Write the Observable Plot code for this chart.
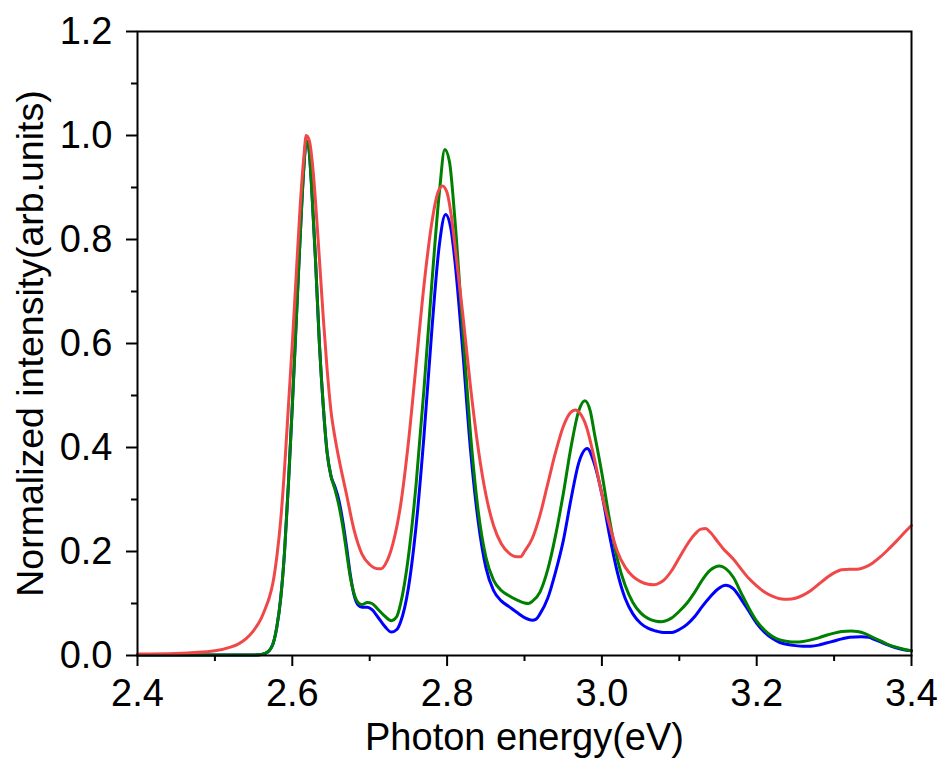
<!DOCTYPE html>
<html>
<head>
<meta charset="utf-8">
<script src="https://cdn.jsdelivr.net/npm/d3@7"></script>
<script src="https://cdn.jsdelivr.net/npm/@observablehq/plot@0.6"></script>
<style>
  html, body { margin: 0; padding: 0; background: #fff; }
</style>
</head>
<body>
<div id="chart"></div>
<script>
const xMajorTicks = [2.4, 2.6, 2.8, 3.0, 3.2, 3.4];
const xMinorTicks = [2.5, 2.7, 2.9, 3.1, 3.3];
const yMajorTicks = [0.0, 0.2, 0.4, 0.6, 0.8, 1.0, 1.2];
const yMinorTicks = [0.1, 0.3, 0.5, 0.7, 0.9, 1.1];
const xLabel = "Photon energy(eV)";
const yLabel = "Normalized intensity(arb.units)";

// [photon energy (eV), normalized intensity]
const redSeries = [
[2.40,0.003],[2.45,0.004],[2.50,0.009],[2.52,0.016],[2.53,0.022],[2.54,0.032],[2.55,0.048],[2.56,0.072],[2.565,0.09],[2.57,0.11],[2.575,0.14],[2.58,0.19],[2.585,0.26],[2.59,0.36],[2.595,0.48],[2.60,0.6],[2.605,0.73],[2.61,0.86],[2.615,0.96],[2.618,1.0],[2.622,0.99],[2.627,0.93],[2.632,0.83],[2.64,0.65],[2.645,0.55],[2.65,0.47],[2.655,0.42],[2.66,0.38],[2.67,0.31],[2.68,0.24],[2.69,0.195],[2.70,0.175],[2.71,0.167],[2.715,0.167],[2.72,0.175],[2.73,0.215],[2.74,0.29],[2.75,0.41],[2.76,0.56],[2.77,0.71],[2.78,0.83],[2.788,0.89],[2.794,0.903],[2.80,0.89],[2.805,0.85],[2.81,0.79],[2.82,0.66],[2.83,0.52],[2.84,0.4],[2.85,0.31],[2.86,0.25],[2.87,0.215],[2.88,0.197],[2.89,0.19],[2.895,0.19],[2.90,0.2],[2.91,0.225],[2.92,0.27],[2.93,0.33],[2.94,0.39],[2.95,0.44],[2.96,0.468],[2.966,0.472],[2.972,0.465],[2.98,0.44],[2.99,0.38],[3.00,0.31],[3.01,0.25],[3.02,0.2],[3.03,0.17],[3.04,0.152],[3.05,0.142],[3.06,0.137],[3.067,0.136],[3.075,0.14],[3.08,0.145],[3.09,0.163],[3.10,0.188],[3.11,0.213],[3.12,0.233],[3.128,0.243],[3.134,0.244],[3.14,0.237],[3.15,0.218],[3.157,0.205],[3.165,0.193],[3.17,0.185],[3.18,0.166],[3.19,0.148],[3.20,0.134],[3.21,0.122],[3.22,0.114],[3.23,0.109],[3.24,0.108],[3.25,0.11],[3.26,0.116],[3.27,0.125],[3.28,0.137],[3.29,0.149],[3.30,0.159],[3.31,0.165],[3.32,0.166],[3.33,0.166],[3.34,0.17],[3.35,0.178],[3.36,0.19],[3.37,0.204],[3.38,0.219],[3.39,0.235],[3.40,0.25]
];

const greenSeries = [
[2.40,0.001],[2.50,0.001],[2.55,0.001],[2.56,0.002],[2.565,0.004],[2.57,0.009],[2.575,0.022],[2.58,0.055],[2.585,0.11],[2.59,0.2],[2.595,0.33],[2.60,0.48],[2.605,0.64],[2.61,0.8],[2.615,0.94],[2.618,0.99],[2.621,0.98],[2.625,0.9],[2.63,0.76],[2.635,0.6],[2.64,0.48],[2.645,0.39],[2.65,0.345],[2.655,0.32],[2.66,0.29],[2.665,0.25],[2.67,0.2],[2.675,0.15],[2.68,0.118],[2.685,0.102],[2.69,0.098],[2.697,0.102],[2.703,0.1],[2.71,0.09],[2.72,0.075],[2.728,0.067],[2.735,0.075],[2.74,0.1],[2.75,0.19],[2.76,0.33],[2.77,0.51],[2.78,0.71],[2.79,0.89],[2.797,0.973],[2.803,0.95],[2.81,0.84],[2.82,0.63],[2.83,0.43],[2.84,0.28],[2.85,0.19],[2.86,0.145],[2.87,0.125],[2.88,0.115],[2.89,0.107],[2.90,0.101],[2.905,0.1],[2.91,0.104],[2.92,0.122],[2.93,0.165],[2.94,0.23],[2.95,0.31],[2.96,0.4],[2.97,0.47],[2.978,0.49],[2.985,0.47],[2.99,0.43],[3.00,0.35],[3.01,0.26],[3.02,0.185],[3.03,0.135],[3.04,0.102],[3.05,0.082],[3.06,0.071],[3.07,0.066],[3.077,0.065],[3.085,0.068],[3.09,0.072],[3.10,0.085],[3.11,0.101],[3.12,0.122],[3.13,0.146],[3.14,0.164],[3.152,0.172],[3.16,0.167],[3.17,0.15],[3.18,0.12],[3.19,0.091],[3.20,0.066],[3.21,0.049],[3.22,0.037],[3.23,0.03],[3.24,0.027],[3.25,0.026],[3.26,0.027],[3.27,0.03],[3.28,0.034],[3.29,0.039],[3.30,0.043],[3.31,0.046],[3.322,0.047],[3.33,0.046],[3.34,0.042],[3.35,0.035],[3.36,0.028],[3.37,0.021],[3.38,0.016],[3.39,0.012],[3.40,0.009]
];

const blueSeries = [
[2.40,0.001],[2.50,0.001],[2.55,0.001],[2.56,0.002],[2.565,0.004],[2.57,0.009],[2.575,0.022],[2.58,0.055],[2.585,0.11],[2.59,0.2],[2.595,0.33],[2.60,0.48],[2.605,0.64],[2.61,0.8],[2.615,0.94],[2.618,0.99],[2.621,0.98],[2.625,0.9],[2.63,0.76],[2.635,0.6],[2.64,0.48],[2.645,0.39],[2.65,0.345],[2.655,0.325],[2.66,0.3],[2.665,0.26],[2.67,0.21],[2.675,0.155],[2.68,0.115],[2.685,0.097],[2.69,0.093],[2.697,0.093],[2.703,0.088],[2.71,0.075],[2.72,0.055],[2.728,0.045],[2.735,0.05],[2.74,0.065],[2.75,0.13],[2.76,0.25],[2.77,0.42],[2.78,0.62],[2.79,0.79],[2.798,0.848],[2.805,0.82],[2.81,0.76],[2.82,0.59],[2.83,0.4],[2.84,0.26],[2.85,0.17],[2.86,0.125],[2.87,0.105],[2.88,0.094],[2.89,0.083],[2.90,0.073],[2.91,0.068],[2.915,0.07],[2.92,0.08],[2.93,0.11],[2.94,0.16],[2.95,0.22],[2.96,0.3],[2.97,0.37],[2.981,0.398],[2.99,0.37],[3.00,0.31],[3.01,0.23],[3.02,0.16],[3.03,0.11],[3.04,0.08],[3.05,0.062],[3.06,0.052],[3.07,0.047],[3.08,0.044],[3.089,0.044],[3.10,0.05],[3.11,0.06],[3.12,0.075],[3.13,0.095],[3.14,0.113],[3.15,0.128],[3.16,0.135],[3.17,0.128],[3.18,0.108],[3.19,0.085],[3.20,0.062],[3.21,0.045],[3.22,0.033],[3.23,0.025],[3.24,0.021],[3.25,0.019],[3.26,0.018],[3.27,0.018],[3.28,0.02],[3.29,0.024],[3.30,0.028],[3.31,0.032],[3.32,0.035],[3.335,0.036],[3.345,0.035],[3.35,0.032],[3.36,0.026],[3.37,0.02],[3.38,0.015],[3.39,0.011],[3.40,0.009]
];

const fmt = d3.format(".1f");
const lineOpts = (color) => ({x: d => d[0], y: d => d[1], stroke: color, strokeWidth: 3, curve: "monotone-x"});

const chart = Plot.plot({
  width: 942,
  height: 760,
  marginLeft: 137,
  marginRight: 31,
  marginTop: 31,
  marginBottom: 105,
  style: {fontFamily: "'Liberation Sans', Arial, sans-serif", fontSize: "38px", color: "black", background: "white"},
  x: {domain: [2.4, 3.4]},
  y: {domain: [0, 1.2]},
  marks: [
    Plot.line(blueSeries, lineOpts("#0000ff")),
    Plot.line(greenSeries, lineOpts("#008000")),
    Plot.line(redSeries, lineOpts("#f04848")),
    Plot.frame({stroke: "black", strokeWidth: 2}),
    Plot.axisX({ticks: xMajorTicks, tickSize: 11, tickPadding: 13, tickFormat: fmt, strokeWidth: 2, label: null, fontSize: 38}),
    Plot.axisX({ticks: xMinorTicks, tickSize: 6, tickFormat: () => "", strokeWidth: 2, label: null}),
    Plot.axisY({ticks: yMajorTicks, tickSize: 11, tickPadding: 14, tickFormat: fmt, strokeWidth: 2, label: null, fontSize: 38}),
    Plot.axisY({ticks: yMinorTicks, tickSize: 6, tickFormat: () => "", strokeWidth: 2, label: null}),
    Plot.text([xLabel], {text: d => d, frameAnchor: "bottom", textAnchor: "middle", lineAnchor: "middle", dy: 82, fontSize: 38}),
    Plot.text([yLabel], {text: d => d, frameAnchor: "left", textAnchor: "middle", lineAnchor: "middle", dx: -107, rotate: -90, fontSize: 37.5})
  ]
});
document.getElementById("chart").append(chart);
</script>
</body>
</html>
